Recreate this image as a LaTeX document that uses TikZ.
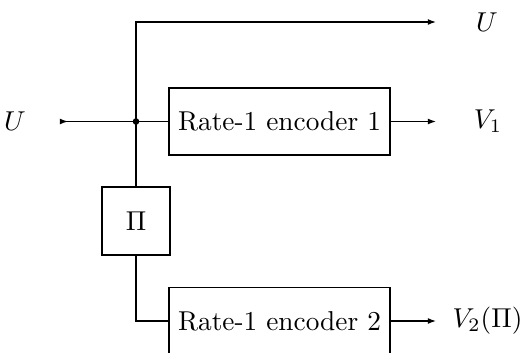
\documentclass[tikz,border=0pt]{standalone}
\usetikzlibrary{arrows.meta}
\begin{document}
\begin{tikzpicture}[x=0.3663pt,y=-0.3663pt,
  line width=0.5pt,
  block/.style={draw, minimum width=81pt, minimum height=24.5pt, inner sep=0pt},
  perm/.style={draw, minimum width=24.9pt, minimum height=24.9pt, inner sep=0pt},
  sig/.style={inner sep=0pt},
  tip/.style={-{Latex[length=3pt,width=2.2pt]}}]
\clip (0,0) rectangle (521,353);
% blocks
\node[block] (enc1) at (279.5,121.5) {Rate-1 encoder 1};
\node[block] (enc2) at (279.5,321) {Rate-1 encoder 2};
\node[perm] (pi) at (136,221) {$\Pi$};
% helper points
\coordinate (split) at (136,121.5);
\coordinate (in) at (60,121.5);
\coordinate (outU) at (436,22);
\coordinate (out1) at (436,121.5);
\coordinate (out2) at (436,321);
% signal labels
\node[sig] (uin) at (15,121.5) {$U$};
\node[sig] (uout) at (487,22) {$U$};
\node[sig] (v1) at (488,121.5) {$V_1$};
\node[sig] (v2) at (487.5,321) {$V_2(\Pi)$};
% connections
\draw[tip] (in) -- ++(8,0);
\draw (in) -- (split) -- (enc1.west);
\draw[tip] (pi.north) |- (outU);
\draw (pi.south) |- (enc2.west);
\draw[tip] (enc1.east) -- (out1);
\draw[tip] (enc2.east) -- (out2);
\fill (split) circle (1.2pt);
\end{tikzpicture}
\end{document}
